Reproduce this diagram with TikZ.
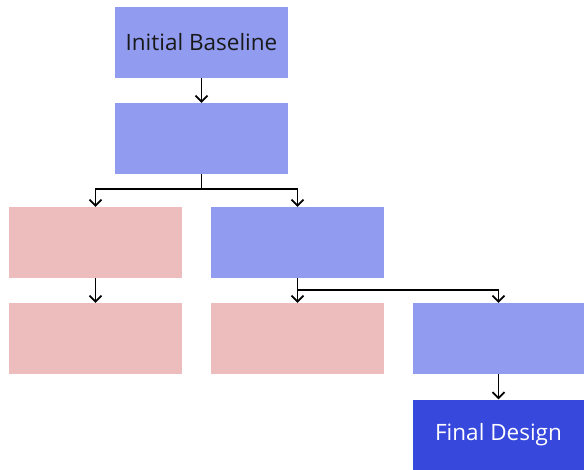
\documentclass[tikz,border=0pt]{standalone}
\usepackage{fontspec}
\setmainfont{Open Sans}
\usetikzlibrary{arrows.meta}
\definecolor{lblue}{RGB}{145,156,240}
\definecolor{lred}{RGB}{237,189,189}
\definecolor{dblue}{RGB}{55,72,220}
\tikzset{
  box/.style={draw=none,minimum width=173pt,minimum height=71pt,inner sep=0pt,font=\fontsize{22.5}{26}\selectfont},
  bluebox/.style={box,fill=lblue,text=black!90},
  redbox/.style={box,fill=lred},
  darkbox/.style={box,fill=dblue,text=white},
  conn/.style={line width=1.8pt,black,-{Straight Barb[length=6pt,width=12pt,line width=1.8pt]}},
  plain/.style={line width=1.8pt,black}
}
\begin{document}
\begin{tikzpicture}[x=1pt,y=-1pt]
\useasboundingbox (0,0) rectangle (584,469);
\node[bluebox] (n1) at (201.5,42) {Initial Baseline};
\node[bluebox] (n2) at (201.5,138.5) {};
\node[redbox] (r1) at (95.5,242.5) {};
\node[bluebox] (b3) at (297.5,242.5) {};
\node[redbox] (r2) at (95.5,338.5) {};
\node[redbox] (r3) at (297.5,338.5) {};
\node[bluebox,minimum width=171pt] (b4) at (498.5,338.5) {};
\node[darkbox,minimum width=171pt,minimum height=70pt] (fd) at (498.5,434.5) {Final Design};
\coordinate (j1) at (201.5,189);
\coordinate (j2) at (297.5,290);
\draw[conn] (n1.south) -- (n2.north);
\draw[plain] (n2.south) -- (j1);
\draw[conn] (j1) -| (r1.north);
\draw[conn] (j1) -| (b3.north);
\draw[conn] (r1.south) -- (r2.north);
\draw[conn] (b3.south) -- (r3.north);
\draw[conn] (j2) -| (b4.north);
\draw[conn] (b4.south) -- (fd.north);
\end{tikzpicture}
\end{document}
